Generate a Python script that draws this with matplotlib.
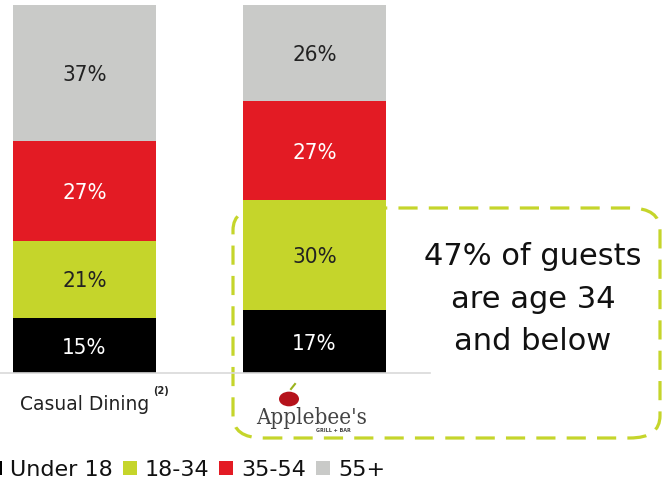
import matplotlib
matplotlib.use("Agg")
import matplotlib.pyplot as plt
from matplotlib.patches import FancyBboxPatch, Patch, Circle
import numpy as np

categories = ["Casual Dining", "Applebee's"]
groups = ["Under 18", "18-34", "35-54", "55+"]
under18 = [15, 17]
age18_34 = [21, 30]
age35_54 = [27, 27]
age55p = [37, 26]
series = [under18, age18_34, age35_54, age55p]
colors = ["#000000", "#C5D52B", "#E31B24", "#C9CAC8"]
text_colors = ["white", "#222222", "white", "#222222"]

W, H = 671, 493
fig = plt.figure(figsize=(W / 100, H / 100), dpi=100)
fig.patch.set_facecolor("white")

ax = fig.add_axes([0 / W, (H - 373) / H, 430 / W, (373 - 5) / H])
ax.patch.set_alpha(0)
x = np.arange(len(categories))
scale = 230.0
ax.set_xlim(-84.5 / scale, (430 - 84.5) / scale)
ax.set_ylim(0, 100)
width = 143 / scale

bottom = np.zeros(len(categories))
for vals, c, tc in zip(series, colors, text_colors):
    v = np.array(vals, dtype=float)
    ax.bar(x, v, width=width, bottom=bottom, color=c, edgecolor="none", zorder=2)
    for xi, b, h in zip(x, bottom, v):
        ax.text(xi, b + h / 2 - 0.6, f"{int(h)}%", ha="center", va="center",
                color=tc, fontsize=16, family="DejaVu Sans",
                fontstretch="condensed", zorder=3)
    bottom += v

for s in ["top", "right", "left"]:
    ax.spines[s].set_visible(False)
ax.spines["bottom"].set_color("#D9D9D9")
ax.spines["bottom"].set_linewidth(1.2)
ax.set_yticks([])
ax.set_xticks([0])
ax.set_xticklabels([categories[0]], fontsize=13.5, color="#222222")
ax.tick_params(axis="x", length=0, pad=16)

# superscript for Casual Dining
fig.text(161 / W, (H - 391) / H, "(2)", fontsize=7, color="#222222",
         ha="center", va="center", fontweight="bold")

# Applebee's logo as text
fig.text(312 / W, (H - 418) / H, categories[1], fontsize=16, color="#444444",
         family="DejaVu Serif", fontstretch="condensed", ha="center", va="center")
fig.text(333 / W, (H - 431) / H, "GRILL + BAR", fontsize=3.5, color="#444444",
         ha="center", va="center", fontweight="bold")
apple = Circle((289 / W, (H - 399) / H), 10 / W, transform=fig.transFigure,
               facecolor="#B5121B", edgecolor="none")
fig.patches.append(apple)
fig.add_artist(plt.Line2D([291 / W, 295 / W], [(H - 389) / H, (H - 384) / H],
                          color="#9BB31D", lw=1.5, transform=fig.transFigure))

# dashed callout box
box = FancyBboxPatch((233 / W, (H - 438) / H), (660 - 233) / W, (438 - 208) / H,
                     boxstyle="round,pad=0,rounding_size=0.045",
                     transform=fig.transFigure, facecolor="none",
                     edgecolor="#C5D52B", linewidth=2.3,
                     linestyle=(0, (6, 3.5)), zorder=-1)
fig.patches.append(box)

fig.text(533 / W, (H - 299) / H, "47% of guests\nare age 34\nand below",
         fontsize=22, ha="center", va="center", color="#111111",
         linespacing=1.6)

handles = [Patch(facecolor=c, edgecolor="none") for c in colors]
fig.legend(handles, groups, loc="center left", bbox_to_anchor=(-12 / W, (H - 470) / H),
           ncol=4, frameon=False, fontsize=16, handlelength=0.63, handleheight=0.63,
           handletextpad=0.36, columnspacing=0.45, borderpad=0, borderaxespad=0,
           labelcolor="#111111")

fig.savefig("out.png", dpi=100)
